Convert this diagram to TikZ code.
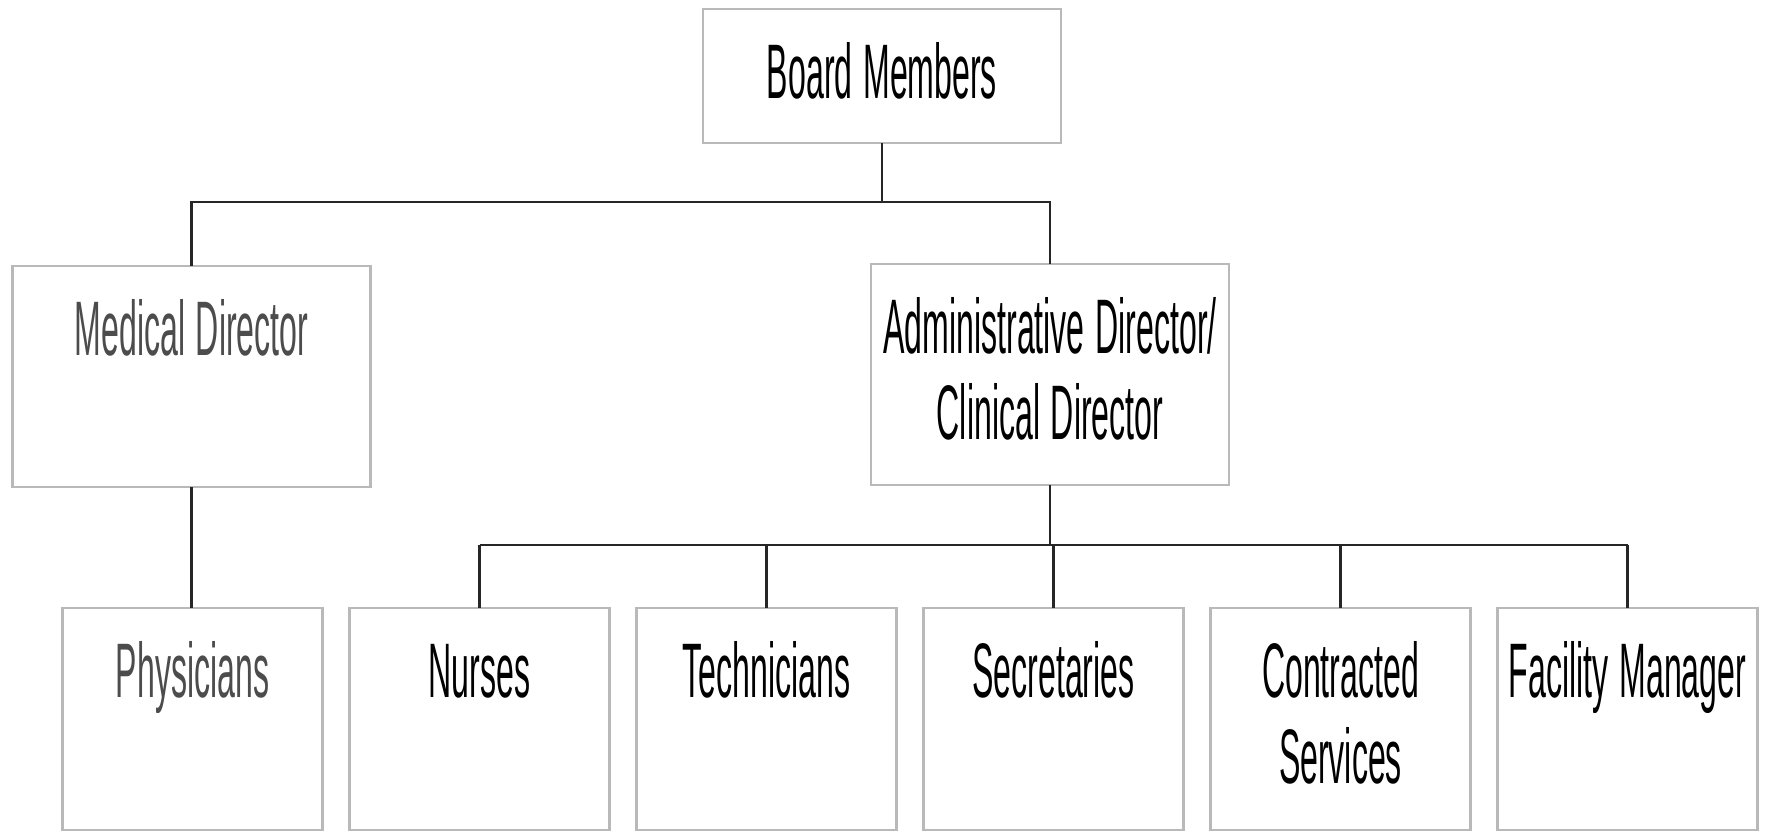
\documentclass[tikz,border=0pt]{standalone}
\usepackage{fontspec}
\setmainfont{Liberation Sans}
\usepackage{graphicx}
\usepackage{tikz}
\usetikzlibrary{positioning}

\newcommand\squeeze[1]{\scalebox{0.415}[1]{#1}}

\tikzset{
	unit/.style={draw=gray!55,line width=0.6pt,inner sep=0pt,outer sep=0pt,anchor=north,
		align=center,text height=0.89cm,font=\fontsize{22}{24.7}\selectfont},
	wide/.style={unit,text width=3.58cm,text depth=1.32cm},
	narrow/.style={unit,text width=2.60cm,text depth=1.33cm},
	link/.style={line width=0.6pt,black!85}
}

\begin{document}
\begin{tikzpicture}
		\useasboundingbox (0,0) rectangle (17.65,-8.31);
		\node[wide,text depth=0.45cm] (board) at (8.82,-0.09) {\squeeze{Board Members}};
		\node[wide,text=black!70] (md) at (1.915,-2.66) {\squeeze{Medical Director}};
		\node[wide] (admin) at (10.50,-2.64) {\squeeze{Administrative Director/}\\\squeeze{Clinical Director}};
		\node[narrow,text=black!70] (phys) at (1.925,-6.08) {\squeeze{Physicians}};
		\node[narrow,right=0.27cm of phys] (nurses) {\squeeze{Nurses}};
		\node[narrow,right=0.27cm of nurses] (tech) {\squeeze{Technicians}};
		\node[narrow,right=0.27cm of tech] (secr) {\squeeze{Secretaries}};
		\node[narrow,right=0.27cm of secr] (contr) {\squeeze{Contracted}\\\squeeze{Services}};
		\node[narrow,right=0.27cm of contr] (facil) {\squeeze{Facility Manager}};

		\draw[link] (board.south) -- ++(0,-0.59) -| (md.north);
		\draw[link] (board.south) -- ++(0,-0.59) -| (admin.north);
		\draw[link] (md.south) -- (md.south |- phys.north);

		\path (admin.south) ++(0,-0.60) coordinate (abus);
		\draw[link] (admin.south) -- (abus);
		\draw[link] (abus -| nurses.north) -- (abus -| facil.north);
		\foreach \n in {nurses,tech,secr,contr,facil}
			\draw[link] (abus -| \n.north) -- (\n.north);
	\end{tikzpicture}
\end{document}
